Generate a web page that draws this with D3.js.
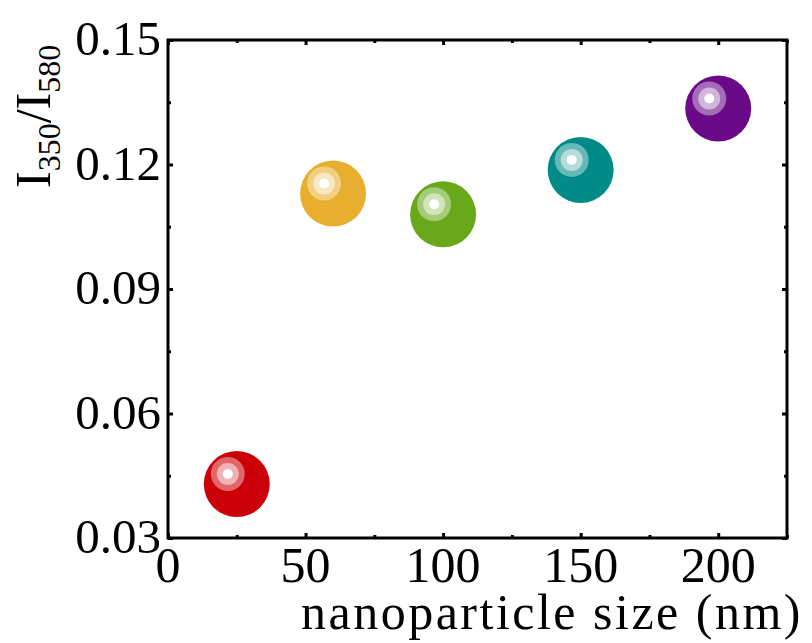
<!DOCTYPE html>
<meta charset="utf-8">
<html>
<head><title>I350/I580 vs nanoparticle size</title>
    <script src="https://d3js.org/d3.v7.min.js"></script>
    <style>
        body { margin: 0; background: #fff; }
        .axisText { font-family: "Liberation Serif", "Times New Roman", serif; fill: #000; }
        .frame { fill: none; stroke: #000; stroke-width: 3; }
    </style>
</head>
<body>
<div id="chartDiv"></div>
<script>

    var SVGwidth = 812, SVGheight = 643;

    // data
    var sizes = [25, 60, 100, 150, 200];          // nm
    var ratios = [0.043, 0.113, 0.108, 0.1187, 0.1335];
    var colors = ["#cc0008", "#e8ae2e", "#68a81a", "#008a88", "#6a0a88"];

    var xTicks = [0, 50, 100, 150, 200];
    var xMinor = [25, 75, 125, 175, 225];
    var yTicks = [0.03, 0.06, 0.09, 0.12, 0.15];
    var yTickLabels = ["0.03", "0.06", "0.09", "0.12", "0.15"];
    var yMinor = [0.045, 0.075, 0.105, 0.135];

    // plot box (note: "top" is reserved on window, so use plotTop)
    var plotLeft = 168, plotRight = 787, plotTop = 40, plotBottom = 538;

    var x = d3.scaleLinear().domain([0, 225]).range([plotLeft, plotRight]);
    var y = d3.scaleLinear().domain([0.03, 0.15]).range([plotBottom, plotTop]);

    var svg = d3.select("#chartDiv").append("svg")
            .attr("width", SVGwidth)
            .attr("height", SVGheight);

    // ticks, pointing inward on all four sides
    function tickAxis(axis, vals, len, transform) {
        var g = svg.append("g")
                .attr("transform", transform)
                .call(axis.tickValues(vals).tickSize(len).tickFormat(""));
        g.select(".domain").remove();
        g.selectAll("line").attr("stroke", "#000").attr("stroke-width", 3);
    }
    tickAxis(d3.axisTop(x), xTicks, 5, "translate(0," + plotBottom + ")");
    tickAxis(d3.axisTop(x), xMinor, 3, "translate(0," + plotBottom + ")");
    tickAxis(d3.axisBottom(x), xTicks, 5, "translate(0," + plotTop + ")");
    tickAxis(d3.axisBottom(x), xMinor, 3, "translate(0," + plotTop + ")");
    tickAxis(d3.axisRight(y), yTicks, 5, "translate(" + plotLeft + ",0)");
    tickAxis(d3.axisRight(y), yMinor, 3, "translate(" + plotLeft + ",0)");
    tickAxis(d3.axisLeft(y), yTicks, 5, "translate(" + plotRight + ",0)");
    tickAxis(d3.axisLeft(y), yMinor, 3, "translate(" + plotRight + ",0)");

    svg.append("rect")
            .attr("class", "frame")
            .attr("x", plotLeft)
            .attr("y", plotTop)
            .attr("width", plotRight - plotLeft)
            .attr("height", plotBottom - plotTop);

    // tick labels
    svg.selectAll(".xlab")
            .data(xTicks)
            .enter()
            .append("text")
            .attr("class", "axisText")
            .attr("x", function(d) { return x(d); })
            .attr("y", 582)
            .attr("text-anchor", "middle")
            .style("font-size", "50px")
            .text(function(d) { return d; });

    svg.selectAll(".ylab")
            .data(yTicks)
            .enter()
            .append("text")
            .attr("class", "axisText")
            .attr("x", 161)
            .attr("y", function(d) { return y(d) + 15; })
            .attr("text-anchor", "end")
            .style("font-size", "49px")
            .text(function(d, i) { return yTickLabels[i]; });

    // axis titles
    svg.append("text")
            .attr("class", "axisText")
            .attr("x", 803)
            .attr("y", 629)
            .attr("text-anchor", "end")
            .style("font-size", "50px")
            .style("letter-spacing", "2.5px")
            .text("nanoparticle size (nm)");

    var yt = svg.append("text")
            .attr("class", "axisText")
            .attr("transform", "translate(50,188) rotate(-90)")
            .attr("text-anchor", "start")
            .style("font-size", "50px");
    yt.append("tspan").text("I");
    yt.append("tspan").attr("dy", 10).style("font-size", "32px").text("350");
    yt.append("tspan").attr("dy", -10).text("/I");
    yt.append("tspan").attr("dy", 10).style("font-size", "32px").text("580");

    // glossy spheres
    var pts = svg.selectAll(".ball")
            .data(sizes)
            .enter()
            .append("g")
            .attr("transform", function(d, i) { return "translate(" + x(d) + "," + y(ratios[i]) + ")"; });

    pts.append("circle").attr("r", 33).attr("fill", function(d, i) { return colors[i]; });
    pts.append("circle").attr("cx", -9).attr("cy", -10).attr("r", 17).attr("fill", "#fff").attr("opacity", 0.4);
    pts.append("circle").attr("cx", -9).attr("cy", -10).attr("r", 11).attr("fill", "#fff").attr("opacity", 0.5);
    pts.append("circle").attr("cx", -9).attr("cy", -10).attr("r", 5).attr("fill", "#fff");

</script>
</body>
</html>
